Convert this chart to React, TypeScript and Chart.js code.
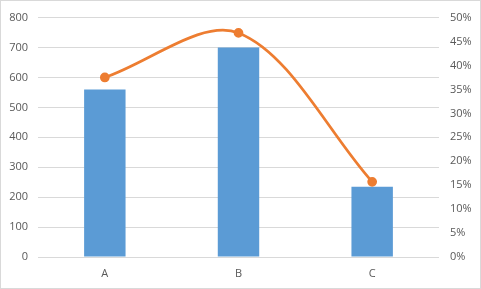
import React, { useEffect, useRef } from "react";
import { Chart, registerables } from "chart.js";

Chart.register(...registerables);

const categories = ["A", "B", "C"];
const barValues = [560, 700, 235];
const lineShares = [0.375, 0.468, 0.157];

export default function App() {
  const ref = useRef<HTMLCanvasElement | null>(null);
  useEffect(() => {
    document.body.style.margin = "0";
    const font = { family: "'Open Sans', 'Liberation Sans', sans-serif", size: 11 };
    const chart = new Chart(ref.current!, {
      data: {
        labels: categories,
        datasets: [
          {
            type: "line",
            data: lineShares,
            yAxisID: "y1",
            borderColor: "#ED7D31",
            backgroundColor: "#ED7D31",
            borderWidth: 2.75,
            pointRadius: 3.5,
            pointHoverRadius: 3.5,
            tension: 0.33,
            order: 0,
          },
          {
            type: "bar",
            data: barValues,
            yAxisID: "y",
            backgroundColor: "#5B9BD5",
            barPercentage: 0.31,
            categoryPercentage: 1,
            order: 1,
          },
        ],
      } as any,
      options: {
        animation: false,
        responsive: false,
        maintainAspectRatio: false,
        layout: { padding: { top: 15, left: 0, right: 0, bottom: 0 } },
        plugins: { legend: { display: false }, tooltip: { enabled: false } },
        scales: {
          x: {
            grid: { display: false, drawTicks: false },
            border: { display: false },
            ticks: { color: "#595959", font, padding: 10 },
            afterFit: (s: any) => { s.height = 32; },
          },
          y: {
            position: "left",
            min: 0,
            max: 800,
            ticks: { stepSize: 100, color: "#595959", font, padding: 10 },
            grid: { color: "#d9d9d9", lineWidth: 1, drawTicks: false },
            border: { display: false },
            afterFit: (s: any) => { s.width = 38; },
          },
          y1: {
            position: "right",
            min: 0,
            max: 0.5,
            ticks: {
              stepSize: 0.05,
              color: "#595959",
              font,
              padding: 11,
              callback: (v: any) => Math.round(Number(v) * 100) + "%",
            },
            grid: { display: false, drawTicks: false },
            border: { display: false },
            afterFit: (s: any) => { s.width = 42; },
          },
        },
      },
    });
    return () => chart.destroy();
  }, []);
  return (
    <div style={{ position: "relative", width: 481, height: 289 }}>
      <canvas ref={ref} width={481} height={289} style={{ display: "block" }} />
      <div
        style={{
          position: "absolute",
          left: 0,
          top: 0,
          width: 481,
          height: 289,
          boxSizing: "border-box",
          border: "1px solid #d9d9d9",
          pointerEvents: "none",
        }}
      />
    </div>
  );
}
